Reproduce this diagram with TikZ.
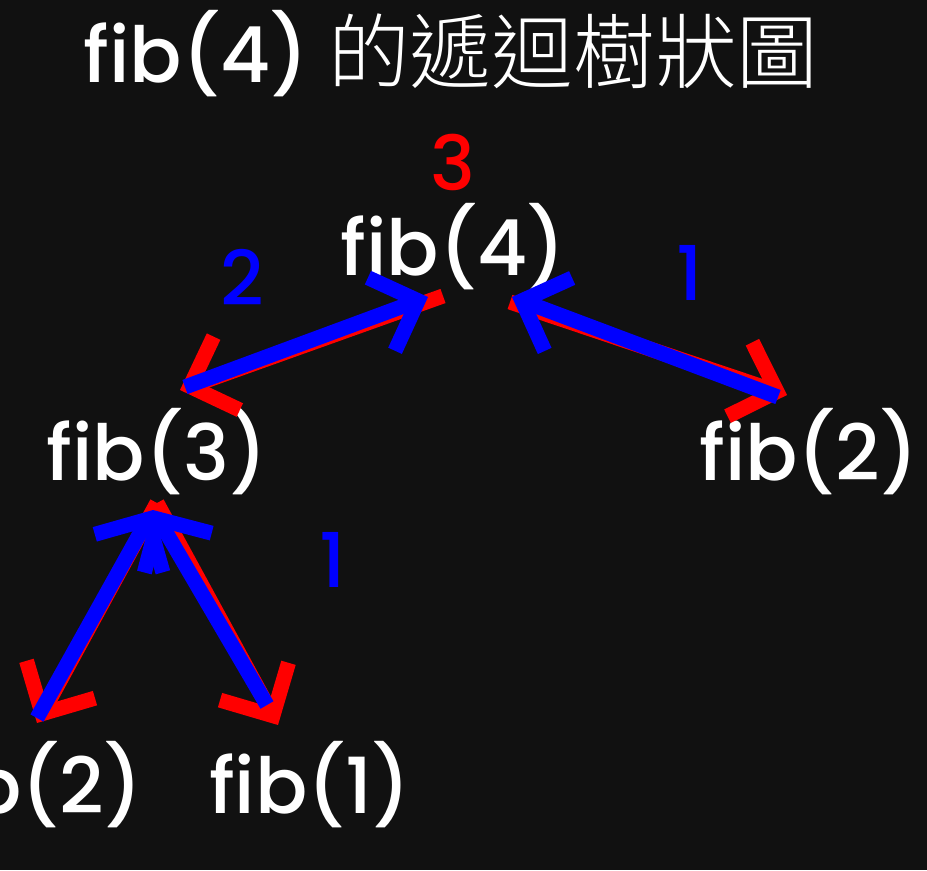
\documentclass[tikz,border=0pt]{standalone}
\usepackage{fontspec}
\IfFontExistsTF{Poppins Medium}{\setmainfont{Poppins Medium}}{\setmainfont{Poppins}}
\IfFontExistsTF{Noto Sans CJK TC Light}{\newfontfamily\cjk{Noto Sans CJK TC Light}}{\newfontfamily\cjk{Noto Sans CJK TC}}
\usetikzlibrary{arrows.meta}
\definecolor{bgdark}{RGB}{17,17,17}
\definecolor{callred}{RGB}{255,0,0}
\definecolor{backblue}{RGB}{0,0,255}

\begin{document}
\begin{tikzpicture}[
    x=0.02cm, y=-0.02cm,
    every node/.style={text=white, inner sep=0pt, anchor=base, font=\fontsize{44}{53}\selectfont},
    call/.style={draw=callred, line width=0.3cm, -{Straight Barb[sharp, length=0.78cm, width=1.56cm]}},
    ret/.style={draw=backblue, line width=0.3cm, -{Straight Barb[sharp, length=0.78cm, width=1.56cm]}},
    count/.style={font=\fontsize{43}{52}\selectfont}
]
    \useasboundingbox (0,0) rectangle (927,870);
    \fill[bgdark] (0,0) rectangle (927,870);
    \clip (0,0) rectangle (927,870);

    \node (title) at (451,82) {fib(4) {\cjk\fontsize{46.5}{56}\selectfont 的遞迴樹狀圖}};

    \node (f4) at (453,275) {fib(4)};
    \node (f3) at (157,480) {fib(3)};
    \node (f2r) at (809,480) {fib(2)};
    \node (f2l) at (33,813) {fib(2)};
    \node (f1) at (310,813) {fib(1)};

    \node[count, text=callred] (c4) at (453,190) {3};
    \node[count, text=backblue] (c3) at (242,305) {2};
    \node[count, text=backblue] (c2r) at (690,300) {1};
    \node[count, text=backblue] (c1) at (333,587) {1};

    % calls going down
    \draw[call] ([shift={(-10,21)}]f4.base) -- ([shift={(23,-90)}]f3.base);
    \draw[call] ([shift={(57,27)}]f4.base) -- ([shift={(-22,-85)}]f2r.base);
    \draw[call] ([shift={(0,23)}]f3.base) -- ([shift={(4,-90)}]f2l.base);
    \draw[call] ([shift={(0,23)}]f3.base) -- ([shift={(-32,-88)}]f1.base);

    % values going back up
    \draw[ret] ([shift={(28,-93)}]f3.base) -- ([shift={(-25,22)}]f4.base);
    \draw[ret] ([shift={(-31,-83)}]f2r.base) -- ([shift={(59,22)}]f4.base);
    \draw[ret] ([shift={(4,-95)}]f2l.base) -- ([shift={(-4,30)}]f3.base);
    \draw[ret] ([shift={(-43,-108)}]f1.base) -- ([shift={(-4,30)}]f3.base);
\end{tikzpicture}
\end{document}
